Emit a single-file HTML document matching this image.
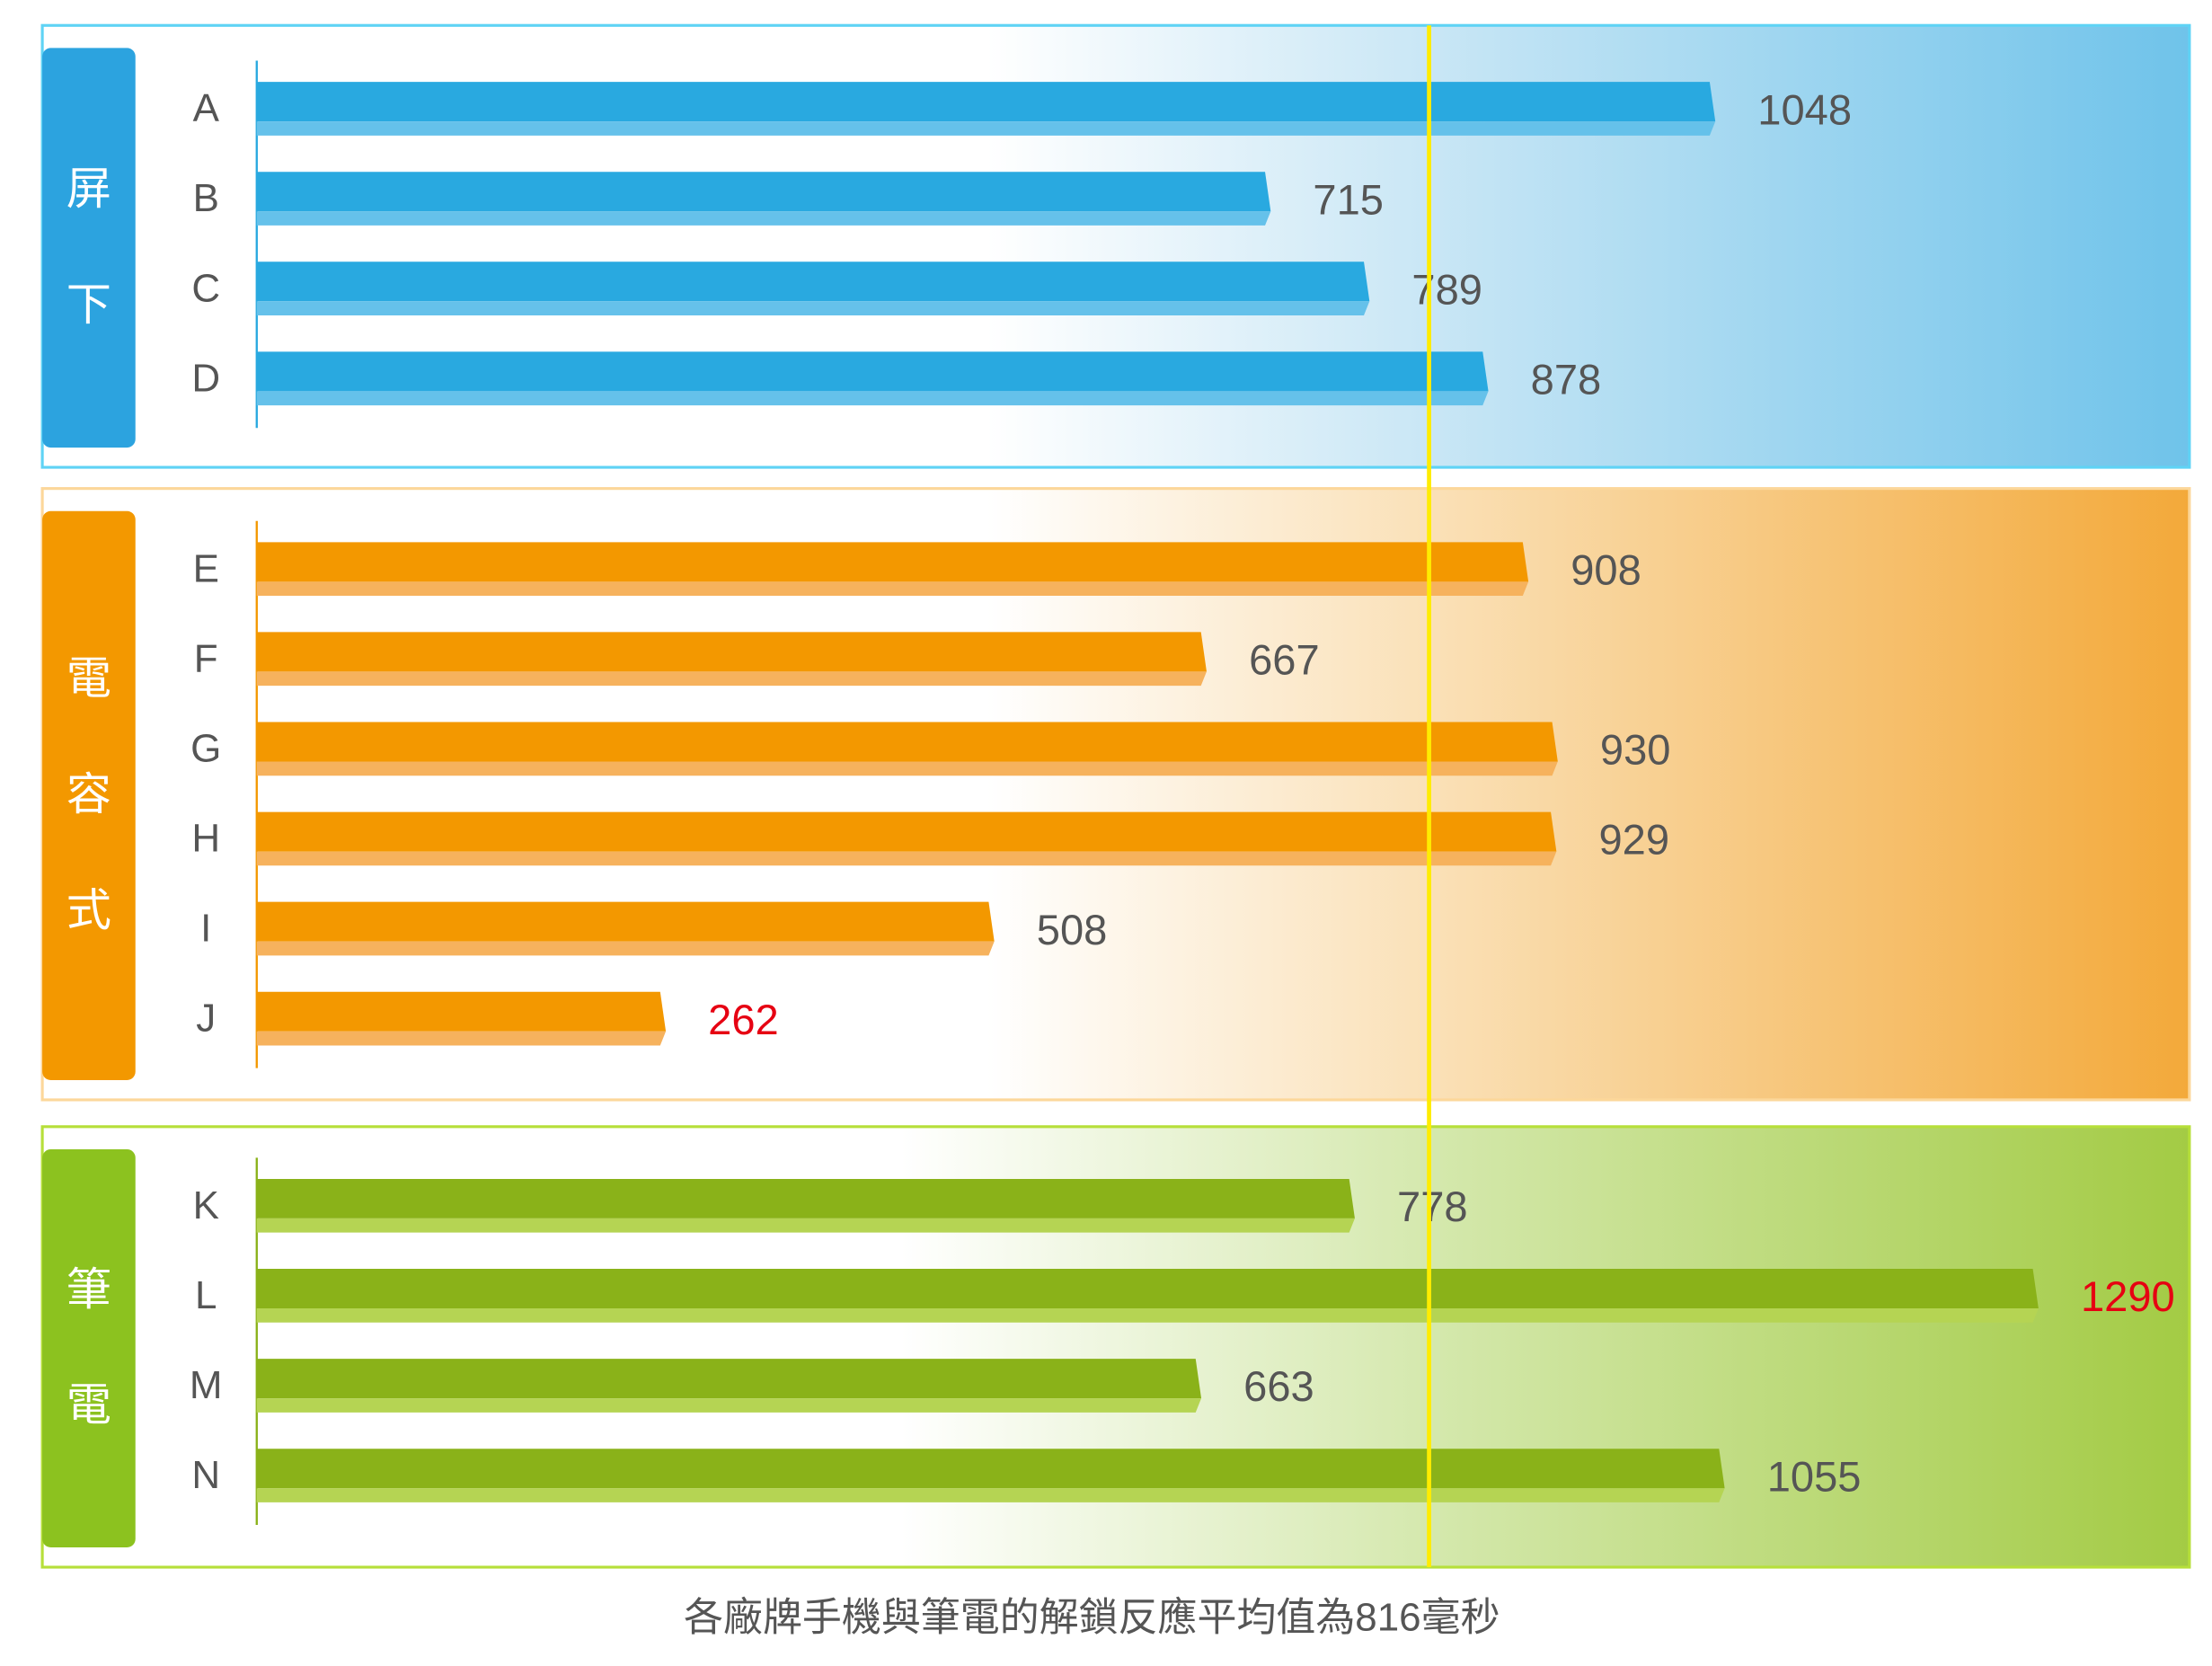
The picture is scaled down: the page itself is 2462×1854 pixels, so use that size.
<!DOCTYPE html>
<html><head><meta charset="utf-8"><style>
html,body{margin:0;padding:0;background:#fff}
svg{display:block}
text{font-family:"Liberation Sans","Noto Sans CJK TC",sans-serif}
</style></head><body>
<svg id="chart" width="2462" height="1854" viewBox="0 0 1568 1180" preserveAspectRatio="none" xmlns="http://www.w3.org/2000/svg">
<defs>
<linearGradient id="gBlue" x1="0" x2="1" y1="0" y2="0"><stop offset="0.44" stop-color="#ffffff"/><stop offset="0.65" stop-color="#c8e6f5"/><stop offset="1" stop-color="#6fc3ea"/></linearGradient>
<linearGradient id="gOrange" x1="0" x2="1" y1="0" y2="0"><stop offset="0.44" stop-color="#ffffff"/><stop offset="0.65" stop-color="#fae0b6"/><stop offset="1" stop-color="#f3a93a"/></linearGradient>
<linearGradient id="gGreen" x1="0" x2="1" y1="0" y2="0"><stop offset="0.40" stop-color="#ffffff"/><stop offset="0.65" stop-color="#d4e8ac"/><stop offset="1" stop-color="#a3cb44"/></linearGradient>
</defs>
<g id="panels"></g>
<g id="bars"></g>
<line x1="1013" x2="1013" y1="18" y2="1110" stroke="#ffec00" stroke-width="3"/>
<text x="774" y="1155" text-anchor="middle" font-size="28" fill="#555">各廠牌手機與筆電的解鎖反應平均值為816毫秒</text>
</svg>
<script>
// data
const groupNames = ["屏下", "電容式", "筆電"];
const categories = [["A","B","C","D"],["E","F","G","H","I","J"],["K","L","M","N"]];
const values = [[1048,715,789,878],[908,667,930,929,508,262],[778,1290,663,1055]];
const highlighted = ["J","L"];

// layout
const groupLayout = [
  {y0:18,y1:331,firstBar:58,grad:"gBlue",border:"#5fd3f5",box:"#2ca3df",dark:"#29a9e0",light:"#65c1ea",axis:"#29a9e0"},
  {y0:346,y1:779,firstBar:384,grad:"gOrange",border:"#fcd79a",box:"#f39800",dark:"#f39800",light:"#f6b25d",axis:"#f39800"},
  {y0:798,y1:1110,firstBar:835,grad:"gGreen",border:"#b6df3a",box:"#8cc21f",dark:"#8ab219",light:"#b5d453",axis:"#8ab219"}
];
const x0 = 182;
function xScale(v){ return 224 + 0.9465*v; }
const rowStep = 63.7;
const NS = "http://www.w3.org/2000/svg";
function mk(tag, attrs, parent){ const e=document.createElementNS(NS,tag); for(const k in attrs) e.setAttribute(k,attrs[k]); parent.appendChild(e); return e; }
const pg = document.getElementById("panels"), bg = document.getElementById("bars");
groupLayout.forEach((L, gi) => {
  const panel = mk("rect",{x:30,y:L.y0,width:1522,height:L.y1-L.y0,fill:"url(#"+L.grad+")",stroke:L.border,"stroke-width":2},pg);
  
  
  const box = mk("rect",{x:30,y:L.y0+16,width:66,height:L.y1-L.y0-30,rx:6,fill:L.box},pg);
  
  
  const chars = groupNames[gi].split("");
  const cy = L.y0 + (L.y1-L.y0)/2;
  chars.forEach((c, ci) => {
    const t = mk("text",{x:63,y:cy + (ci-(chars.length-1)/2)*82 + 11,"text-anchor":"middle","font-size":32,fill:"#fff","font-family":"'Noto Sans CJK TC',sans-serif"},pg);
    t.textContent = c;
    
    
  });
  const n = categories[gi].length;
  const ax = mk("line",{x1:x0,x2:x0,y1:L.firstBar-15,y2:L.firstBar+(n-1)*rowStep+54,stroke:L.axis,"stroke-width":1.5},pg);
  
  
  categories[gi].forEach((cat, i) => {
    const v = values[gi][i];
    const top = L.firstBar + i*rowStep;
    const xe = xScale(v);
    const lab = mk("text",{x:146,y:top+28,"text-anchor":"middle","font-size":28,fill:"#555"},bg);
    lab.textContent = cat;
    
    
    const d = mk("polygon",{points:`${x0},${top} ${xe-4},${top} ${xe},${top+28} ${x0},${top+28}`,fill:L.dark},bg);
    
    
    const l = mk("polygon",{points:`${x0},${top+28} ${xe},${top+28} ${xe-4},${top+38} ${x0},${top+38}`,fill:L.light},bg);
    
    
    const vt = mk("text",{x:xe+30,y:top+30,"font-size":30,fill:highlighted.includes(cat)?"#e60012":"#555"},bg);
    vt.textContent = v;
    
    
  });
});
</script>
</body></html>
